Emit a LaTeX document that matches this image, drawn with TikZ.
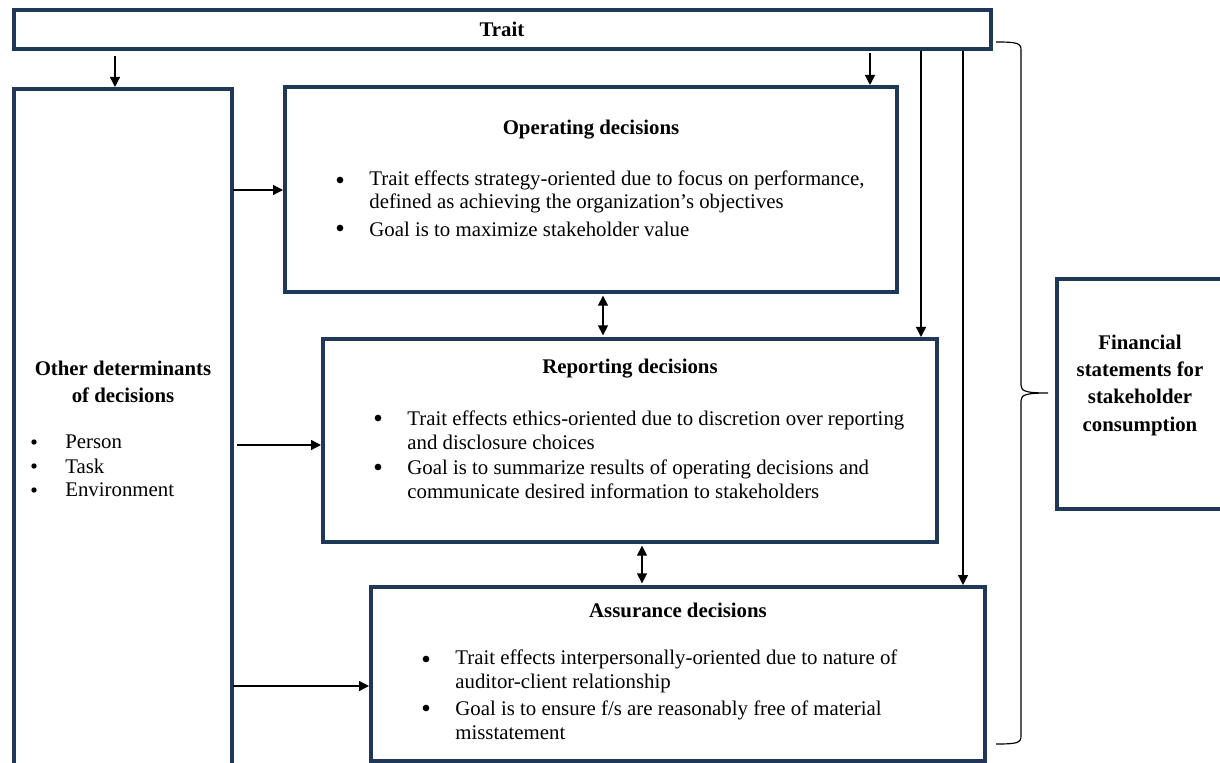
\documentclass[tikz,border=0pt]{standalone}
\usepackage{fontspec}
\setmainfont{Liberation Serif}
\usetikzlibrary{positioning, arrows.meta, calc}

\begin{document}
\begin{tikzpicture}[
    x=0.6pt, y=-0.6pt,
    >={Triangle[length=6pt, width=6pt]},
    font=\fontsize{12.5}{14.2}\selectfont,
    % --- Styles ---
    box/.style={draw=boxNavy, line width=2.4pt, inner sep=0pt},
    title_text/.style={font=\fontsize{12.5}{16.4}\selectfont\bfseries, align=center, inner sep=0pt},
    body_text/.style={align=left, anchor=west, inner sep=0pt},
    dot/.style={circle, fill=black, inner sep=0pt, minimum size=4pt},
    small_dot/.style={dot, minimum size=3.2pt},
    link/.style={->, line width=0.8pt},
    link_both/.style={<->, line width=0.8pt, shorten <=1pt, shorten >=1pt},
    brace_line/.style={line width=0.7pt}
]

    % --- Colors ---
    \definecolor{boxNavy}{RGB}{31,56,90}   % Box border navy

    \path[use as bounding box, clip] (0,0) rectangle (1220,763);

    % ==========================
    % 1. TRAIT
    % ==========================
    \node[box, minimum width=977*0.6pt, minimum height=39*0.6pt, font=\fontsize{12.5}{14.2}\selectfont\bfseries] (trait) at (502,29.5) {Trait};

    % ==========================
    % 2. OTHER DETERMINANTS
    % ==========================
    \node[box, minimum width=218*0.6pt, minimum height=720*0.6pt] (others) at (123,449) {};

    \node[title_text] (others_title) at (123,382) {Other determinants\\of decisions};
    \node[small_dot] (ot_b1) at (34,442) {};
    \node[small_dot] (ot_b2) at (34,466) {};
    \node[small_dot] (ot_b3) at (34,490) {};
    \node[body_text] (ot_t1) at (65,442) {Person};
    \node[body_text] (ot_t2) at (65,466) {Task};
    \node[body_text] (ot_t3) at (65,490) {Environment};

    % ==========================
    % 3. OPERATING DECISIONS
    % ==========================
    \node[box, minimum width=612*0.6pt, minimum height=205*0.6pt] (oper) at (591,189.5) {};

    \node[title_text] (oper_title) at (591,130) {Operating decisions};
    \node[dot] (op_b1) at (340,180) {};
    \node[dot] (op_b2) at (340,228) {};
    \node[body_text] (op_t1) at (369,192) {Trait effects strategy-oriented due to focus on performance,\\defined as achieving the organization’s objectives};
    \node[body_text] (op_t2) at (369,229) {Goal is to maximize stakeholder value};

    % ==========================
    % 4. REPORTING DECISIONS
    % ==========================
    \node[box, minimum width=614*0.6pt, minimum height=203*0.6pt] (report) at (630,440.5) {};

    \node[title_text] (report_title) at (630,369) {Reporting decisions};
    \node[dot] (rp_b1) at (378,418) {};
    \node[dot] (rp_b2) at (378,467) {};
    \node[body_text] (rp_t1) at (407,430) {Trait effects ethics-oriented due to discretion over reporting\\and disclosure choices};
    \node[body_text] (rp_t2) at (407,479.5) {Goal is to summarize results of operating decisions and\\communicate desired information to stakeholders};

    % ==========================
    % 5. ASSURANCE DECISIONS
    % ==========================
    \node[box, minimum width=614*0.6pt, minimum height=174*0.6pt] (assur) at (678,674) {};

    \node[title_text] (assur_title) at (678,610) {Assurance decisions};
    \node[dot] (as_b1) at (426,659) {};
    \node[dot] (as_b2) at (426,708) {};
    \node[body_text] (as_t1) at (455,671.5) {Trait effects interpersonally-oriented due to nature of\\auditor-client relationship};
    \node[body_text] (as_t2) at (455,720.5) {Goal is to ensure f/s are reasonably free of material\\misstatement};

    % ==========================
    % 6. FINANCIAL STATEMENTS
    % ==========================
    \node[box, minimum width=169*0.6pt, minimum height=230*0.6pt] (fin) at (1141.5,394) {};
    \node[title_text] (fin_title) at (1140,385) {Financial\\statements for\\stakeholder\\consumption};

    % ==========================
    % 7. CONNECTORS
    % ==========================

    % Trait down to the boxes
    \coordinate (t1) at (115,56);
    \coordinate (t2) at (870,53);
    \coordinate (t3) at (921,51);
    \coordinate (t4) at (963,51);
    \draw[link] (t1) -- (t1 |- others.north);
    \draw[link] (t2) -- (t2 |- oper.north);
    \draw[link] (t3) -- (t3 |- report.north);
    \draw[link] (t4) -- (t4 |- assur.north);

    % Other determinants across
    \coordinate (o1) at (233,190);
    \coordinate (o2) at (237,445);
    \coordinate (o3) at (233,686);
    \draw[link] (o1) -- (o1 -| oper.west);
    \draw[link] (o2) -- (o2 -| report.west);
    \draw[link] (o3) -- (o3 -| assur.west);

    % Between decision boxes
    \coordinate (d1) at (603,0);
    \coordinate (d2) at (642,0);
    \draw[link_both] (d1 |- oper.south) -- (d1 |- report.north);
    \draw[link_both] (d2 |- report.south) -- (d2 |- assur.north);

    % Brace to the financial statements
    \draw[brace_line] (996,42) .. controls (1017,42) and (1021,43) .. (1021,50)
        -- (1021,385) .. controls (1021,391) and (1025,393) .. (1048,393)
        .. controls (1025,393) and (1021,395) .. (1021,401)
        -- (1021,736) .. controls (1021,743) and (1017,744) .. (996,744);

\end{tikzpicture}
\end{document}
